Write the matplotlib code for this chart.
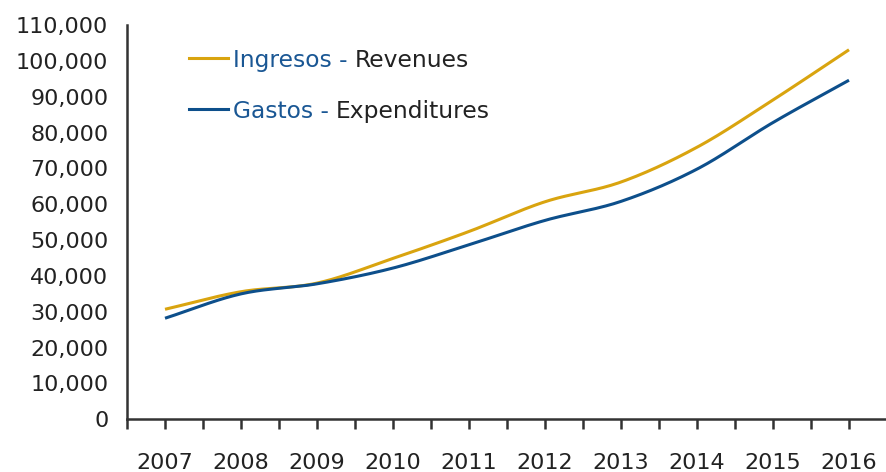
import matplotlib
matplotlib.use('Agg')
import matplotlib.pyplot as plt
import numpy as np
from matplotlib.ticker import FuncFormatter, MultipleLocator

years = [2007, 2008, 2009, 2010, 2011, 2012, 2013, 2014, 2015, 2016]
revenues = [30700, 35600, 38000, 44900, 52400, 60700, 66200, 75900, 89100, 103100]
expenditures = [28200, 35000, 37800, 42200, 48700, 55500, 60800, 69800, 82800, 94600]

gold = '#d9a40f'
navy = '#0d4f8b'
text_blue = '#1a5794'
dark = '#222222'


def smooth(x, y, n=30):
    # catmull-rom curve through the points, like a smoothed office line
    x = np.asarray(x, float)
    y = np.asarray(y, float)
    px = np.concatenate([[2 * x[0] - x[1]], x, [2 * x[-1] - x[-2]]])
    py = np.concatenate([[2 * y[0] - y[1]], y, [2 * y[-1] - y[-2]]])
    xs, ys = [], []
    t = np.linspace(0, 1, n, endpoint=False)
    for i in range(1, len(px) - 2):
        for p, out in ((px, xs), (py, ys)):
            p0, p1, p2, p3 = p[i - 1], p[i], p[i + 1], p[i + 2]
            out.append(0.5 * (2 * p1 + (-p0 + p2) * t
                              + (2 * p0 - 5 * p1 + 4 * p2 - p3) * t ** 2
                              + (-p0 + 3 * p1 - 3 * p2 + p3) * t ** 3))
    xs.append([x[-1]])
    ys.append([y[-1]])
    return np.concatenate(xs), np.concatenate(ys)


plt.rcParams['font.family'] = ['DejaVu Sans']
fig = plt.figure(figsize=(8.87, 4.72), dpi=100)
ax = fig.add_axes([0.1432, 0.1116, 0.8568, 0.8354])

sx, sy = smooth(years, revenues)
ax.plot(sx, sy, color=gold, lw=2.2, solid_capstyle='butt')
sx, sy = smooth(years, expenditures)
ax.plot(sx, sy, color=navy, lw=2.2, solid_capstyle='butt')

ax.set_xlim(2006.5, 2016.5)
ax.set_ylim(0, 110000)
ax.yaxis.set_major_locator(MultipleLocator(10000))
ax.yaxis.set_major_formatter(FuncFormatter(lambda v, p: f'{int(v):,}'))
ax.set_xticks(years)
ax.set_xticks(np.arange(2006.5, 2017, 1.0), minor=True)

for s in ('top', 'right'):
    ax.spines[s].set_visible(False)
for s in ('left', 'bottom'):
    ax.spines[s].set_color('#333333')
    ax.spines[s].set_linewidth(1.8)

ax.tick_params(axis='y', length=0, pad=13.5, labelsize=16, labelcolor=dark)
ax.tick_params(axis='x', which='both', direction='out', length=7.2, width=1.8,
               color='#333333', labelsize=16, labelcolor=dark, pad=17)

# legend built by hand: coloured spanish word, black english word
fs = 16.8
for yv, col, es, en in ((0.916, gold, 'Ingresos - ', 'Revenues'),
                         (0.787, navy, 'Gastos - ', 'Expenditures')):
    ax.plot([0.082, 0.133], [yv, yv], color=col, lw=2.2,
            transform=ax.transAxes, clip_on=False)
    t = ax.text(0.139, yv - 0.006, es, color=text_blue, fontsize=fs,
                va='center', transform=ax.transAxes)
    ax.annotate(en, xy=(1, 0), xycoords=t, xytext=(0, 0),
                textcoords='offset points', color=dark, fontsize=fs,
                va='bottom', ha='left')

fig.savefig('out.png', dpi=100)
